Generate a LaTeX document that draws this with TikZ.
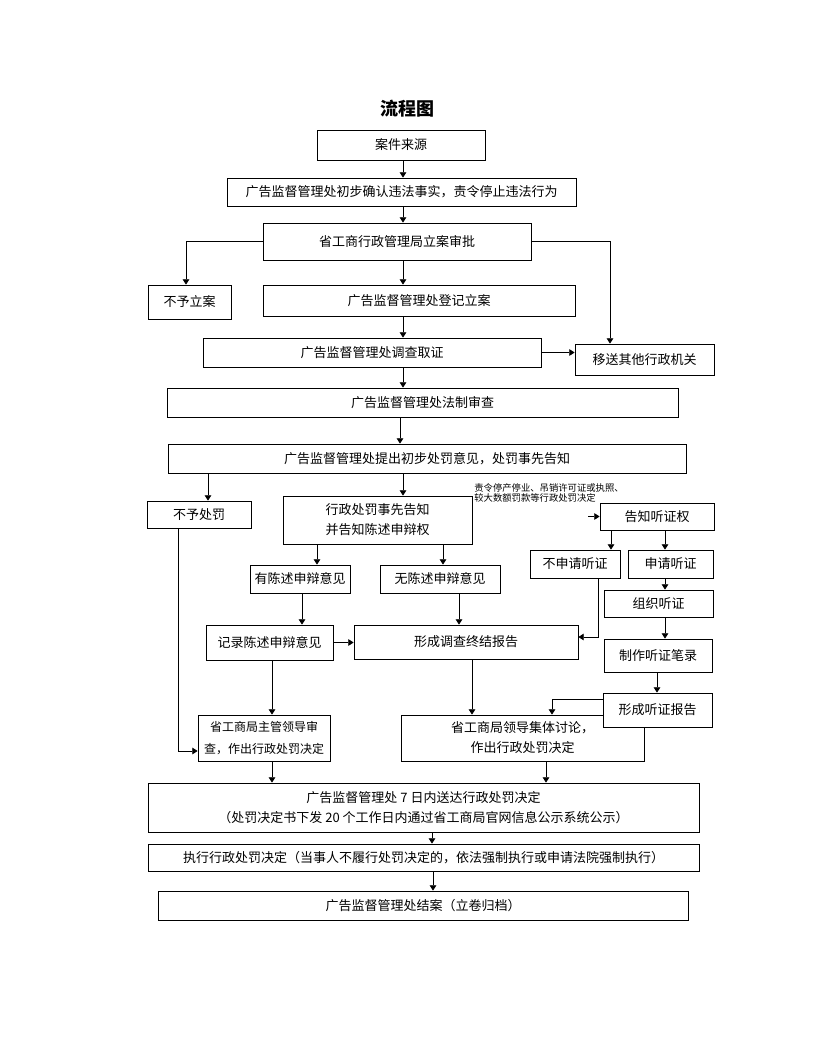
\documentclass[tikz,border=0pt]{standalone}
\usepackage{fontspec}
\setmainfont{Noto Sans CJK SC}
\usetikzlibrary{arrows.meta,positioning}

\begin{document}
\begin{tikzpicture}[
  x=0.75pt, y=-0.75pt, line width=0.6pt,
  box/.style={draw, align=center, inner sep=0pt, fill=white, font=\fontsize{9.75}{15}\selectfont},
  rbox/.style 2 args={box, minimum width=#1*0.75pt, minimum height=#2*0.75pt},
  arr/.style={-{Triangle[length=4pt,width=5pt]}}
]
\useasboundingbox (0,0) rectangle (816,1056);
\node[font=\fontsize{13.5}{16}\selectfont\bfseries] (title) at (407,109) {流程图};
\node[rbox={168}{30}] (src) at (401,145) {案件来源};
\node[rbox={349}{28}] (prelim) at (401.5,192) {广告监督管理处初步确认违法事实，责令停止违法行为};
\node[rbox={268}{37}] (approve) at (397,241.5) {省工商行政管理局立案审批};
\node[rbox={83}{34}] (noreg) at (189.5,302) {不予立案};
\node[rbox={312}{31}] (reg) at (419,300.5) {广告监督管理处登记立案};
\node[rbox={338}{29}] (invest) at (372,352.5) {广告监督管理处调查取证};
\node[rbox={139}{31}] (transfer) at (644.5,359.5) {移送其他行政机关};
\node[rbox={511}{29}] (legal) at (422.5,402.5) {广告监督管理处法制审查};
\node[rbox={518}{29}] (opinion) at (427,458.5) {广告监督管理处提出初步处罚意见，处罚事先告知};
\node[rbox={104}{27}] (nopen) at (199,514.5) {不予处罚};
\node[rbox={189}{48}] (notify) at (377.5,520) {行政处罚事先告知\\并告知陈述申辩权};
\node[anchor=north west, inner sep=0pt, align=left, font=\fontsize{7}{7.8}\selectfont] (note) at (474,483) {责令停产停业、吊销许可证或执照、\\较大数额罚款等行政处罚决定};
\node[rbox={114}{27}] (hear) at (657,516.5) {告知听证权};
\node[rbox={90}{28}] (nohear) at (575,564) {不申请听证};
\node[rbox={85}{28}] (askhear) at (670.5,564) {申请听证};
\node[rbox={109}{27}] (org) at (658.5,603.5) {组织听证};
\node[rbox={108}{33}] (record) at (658,655.5) {制作听证笔录};
\node[rbox={100}{28}] (hasop) at (300,579) {有陈述申辩意见};
\node[rbox={120}{28}] (noop) at (440,579) {无陈述申辩意见};
\node[rbox={127}{35}] (recop) at (269.5,642.5) {记录陈述申辩意见};
\node[rbox={224}{34}] (final) at (466,642) {形成调查终结报告};
\node[rbox={132}{46}, font=\fontsize{9}{16}\selectfont] (leader) at (264,738) {省工商局主管领导审\\查，作出行政处罚决定};
\node[rbox={243}{46}] (group) at (522.5,738) {省工商局领导集体讨论，\\作出行政处罚决定};
\node[rbox={109}{34}] (hreport) at (657.5,710) {形成听证报告};
\node[rbox={551}{49}] (deliver) at (423.5,807.5) {广告监督管理处 7 日内送达行政处罚决定\\（处罚决定书下发 20 个工作日内通过省工商局官网信息公示系统公示）};
\node[rbox={551}{27}] (exec) at (423.5,857.5) {执行行政处罚决定（当事人不履行处罚决定的，依法强制执行或申请法院强制执行）};
\node[rbox={530}{29}] (close) at (423,905.5) {广告监督管理处结案（立卷归档）};
\coordinate (spine) at (403,0);
\coordinate (hearin) at (588,516.5);
\draw[arr] (src.south -| spine) -- (prelim.north -| spine);
\draw[arr] (prelim.south -| spine) -- (approve.north -| spine);
\draw[arr] (approve.west) -| (186,0 |- noreg.north);
\draw[arr] (approve.east) -| (610,0 |- transfer.north);
\draw[arr] (approve.south -| spine) -- (reg.north -| spine);
\draw[arr] (reg.south -| spine) -- (invest.north -| spine);
\draw[arr] (invest.east) -- (invest.east -| transfer.west);
\draw[arr] (invest.south -| spine) -- (legal.north -| spine);
\draw[arr] (400,0 |- legal.south) -- (400,0 |- opinion.north);
\draw[arr] (208,0 |- opinion.south) -- (208,0 |- nopen.north);
\draw[arr] (opinion.south -| spine) -- (notify.north -| spine);
\draw[arr] (hearin) -- (hear.west);
\draw[arr] (317,0 |- notify.south) -- (317,0 |- hasop.north);
\draw[arr] (443,0 |- notify.south) -- (443,0 |- noop.north);
\draw[arr] (611,0 |- hear.south) -- (611,0 |- nohear.north);
\draw[arr] (665,0 |- hear.south) -- (665,0 |- askhear.north);
\draw[arr] (665,0 |- askhear.south) -- (665,0 |- org.north);
\draw[arr] (665,0 |- org.south) -- (665,0 |- record.north);
\draw[arr] (657,0 |- record.south) -- (657,0 |- hreport.north);
\draw[arr] (302,0 |- hasop.south) -- (302,0 |- recop.north);
\draw[arr] (459,0 |- noop.south) -- (459,0 |- final.north);
\draw[arr] (recop.east) -- (recop.east -| final.west);
\draw[arr] (598,0 |- nohear.south) |- (final.east |- 0,637);
\draw[arr] (272,0 |- recop.south) -- (272,0 |- leader.north);
\draw[arr] (472,0 |- final.south) -- (472,0 |- group.north);
\draw[arr] (178,0 |- nopen.south) |- (leader.west |- 0,751);
\draw[arr] (hreport.west |- 0,699) -| (552,0 |- group.north);
\draw[arr] (272,0 |- leader.south) -- (272,0 |- deliver.north);
\draw[arr] (546,0 |- group.south) -- (546,0 |- deliver.north);
\draw[arr] (432,0 |- deliver.south) -- (432,0 |- exec.north);
\draw[arr] (433,0 |- exec.south) -- (433,0 |- close.north);
\end{tikzpicture}
\end{document}
